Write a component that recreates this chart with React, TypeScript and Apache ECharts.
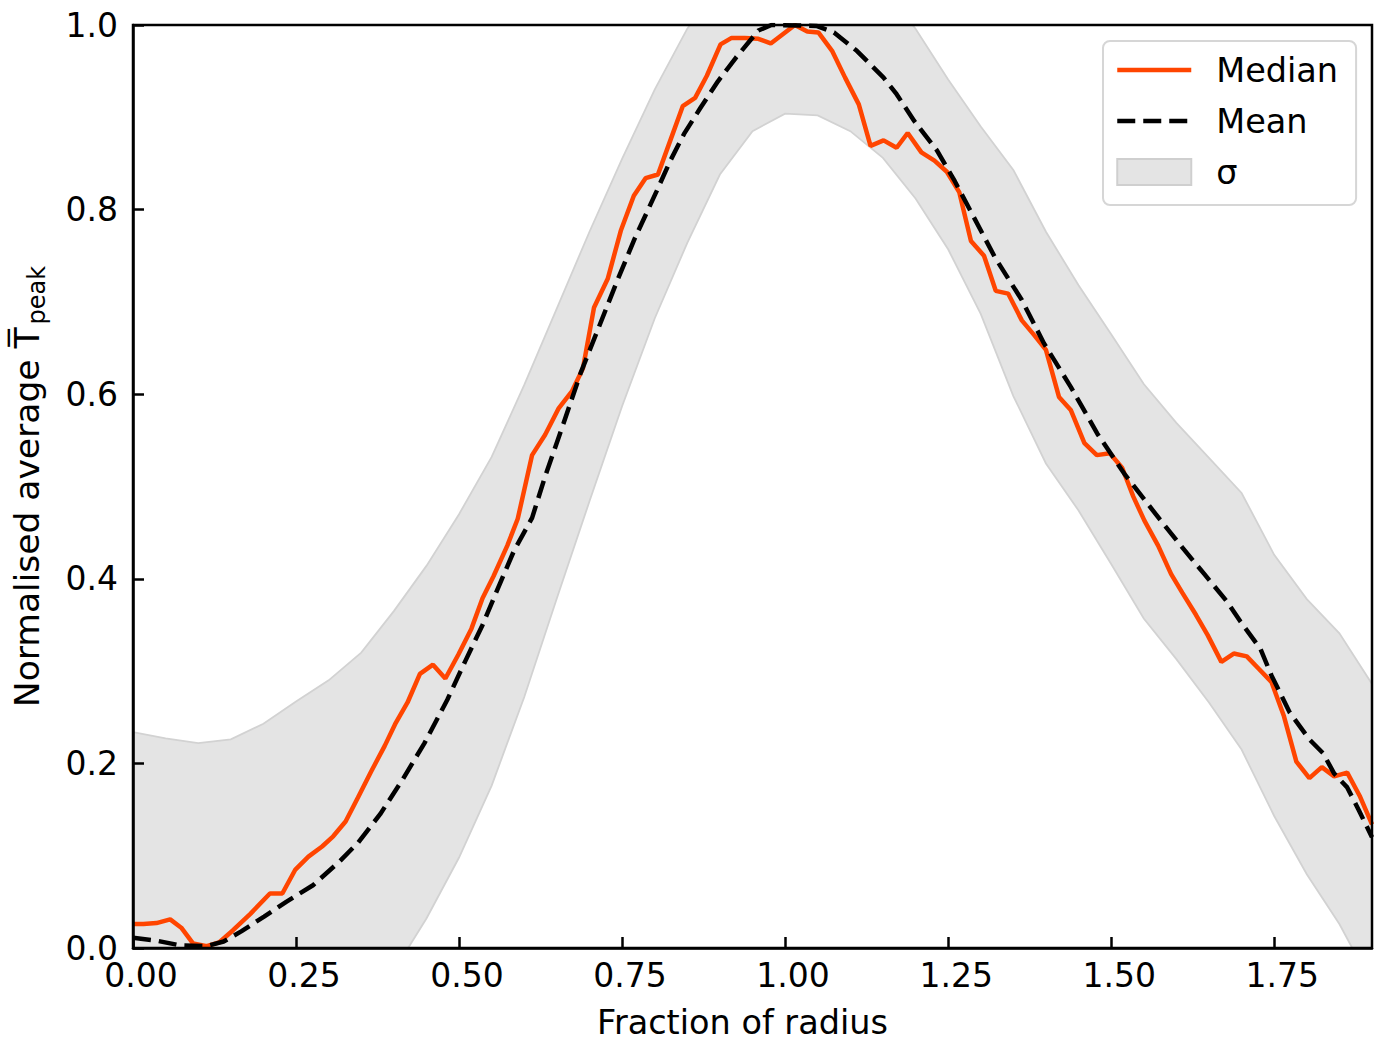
import React, { useEffect, useRef } from "react";
import * as echarts from "echarts";

// Median profile [fraction of radius, normalised T]
const median: number[][] = [
  [0.000, 0.026], [0.016, 0.026], [0.036, 0.027], [0.057, 0.031], [0.074, 0.022],
  [0.092, 0.005], [0.113, 0.002], [0.132, 0.006], [0.153, 0.019], [0.180, 0.037],
  [0.210, 0.059], [0.229, 0.059], [0.249, 0.085], [0.269, 0.099], [0.290, 0.110],
  [0.307, 0.121], [0.326, 0.137], [0.345, 0.163], [0.365, 0.191], [0.386, 0.219],
  [0.403, 0.244], [0.421, 0.266], [0.440, 0.297], [0.460, 0.307], [0.479, 0.292],
  [0.499, 0.318], [0.519, 0.346], [0.536, 0.379], [0.553, 0.403], [0.574, 0.436],
  [0.590, 0.465], [0.612, 0.534], [0.632, 0.556], [0.653, 0.585], [0.673, 0.603],
  [0.690, 0.628], [0.707, 0.694], [0.728, 0.725], [0.748, 0.777], [0.768, 0.815],
  [0.786, 0.834], [0.805, 0.838], [0.824, 0.875], [0.843, 0.912], [0.862, 0.921],
  [0.880, 0.945], [0.901, 0.979], [0.918, 0.986], [0.938, 0.986], [0.959, 0.985],
  [0.978, 0.980], [1.015, 1.000], [1.034, 0.993], [1.051, 0.992], [1.072, 0.972],
  [1.092, 0.943], [1.113, 0.914], [1.131, 0.869], [1.151, 0.875], [1.171, 0.867],
  [1.188, 0.883], [1.209, 0.862], [1.229, 0.853], [1.248, 0.841], [1.267, 0.819],
  [1.285, 0.766], [1.305, 0.750], [1.323, 0.712], [1.342, 0.709], [1.363, 0.680],
  [1.382, 0.664], [1.400, 0.648], [1.420, 0.597], [1.438, 0.583], [1.459, 0.547],
  [1.478, 0.534], [1.498, 0.536], [1.517, 0.520], [1.534, 0.489], [1.551, 0.463],
  [1.572, 0.436], [1.592, 0.405], [1.609, 0.385], [1.630, 0.361], [1.648, 0.339],
  [1.669, 0.310], [1.688, 0.319], [1.708, 0.316], [1.727, 0.302], [1.746, 0.288],
  [1.765, 0.251], [1.784, 0.202], [1.804, 0.184], [1.823, 0.196], [1.842, 0.186],
  [1.862, 0.190], [1.881, 0.165], [1.900, 0.134],
];

// Mean profile
const mean: number[][] = [
  [0.000, 0.011], [0.036, 0.008], [0.071, 0.003], [0.112, 0.002], [0.139, 0.007],
  [0.166, 0.018], [0.201, 0.034], [0.235, 0.050], [0.276, 0.068], [0.317, 0.094],
  [0.345, 0.114], [0.379, 0.145], [0.413, 0.182], [0.447, 0.222], [0.482, 0.269],
  [0.509, 0.310], [0.536, 0.350], [0.564, 0.397], [0.584, 0.430], [0.612, 0.466],
  [0.632, 0.511], [0.660, 0.568], [0.687, 0.624], [0.714, 0.672], [0.742, 0.722],
  [0.769, 0.768], [0.803, 0.820], [0.824, 0.853], [0.845, 0.882], [0.870, 0.910],
  [0.897, 0.939], [0.925, 0.965], [0.959, 0.994], [0.979, 1.000], [1.048, 0.999],
  [1.075, 0.992], [1.110, 0.972], [1.151, 0.943], [1.171, 0.925], [1.198, 0.896],
  [1.233, 0.864], [1.260, 0.831], [1.287, 0.795], [1.322, 0.748], [1.363, 0.702],
  [1.397, 0.655], [1.438, 0.608], [1.479, 0.557], [1.520, 0.514], [1.575, 0.464],
  [1.609, 0.434], [1.643, 0.405], [1.678, 0.375], [1.698, 0.354], [1.729, 0.324],
  [1.746, 0.295], [1.774, 0.255], [1.804, 0.226], [1.825, 0.211], [1.842, 0.189],
  [1.862, 0.174], [1.880, 0.149], [1.900, 0.120],
];

// Sigma band (lower / upper envelope)
const bandX = [
  0.00, 0.05, 0.10, 0.15, 0.20, 0.25, 0.30, 0.35, 0.40, 0.45,
  0.50, 0.55, 0.60, 0.65, 0.70, 0.75, 0.80, 0.85, 0.90, 0.95,
  1.00, 1.05, 1.10, 1.15, 1.20, 1.25, 1.30, 1.35, 1.40, 1.45,
  1.50, 1.55, 1.60, 1.65, 1.70, 1.75, 1.80, 1.85, 1.90,
];
const bandLower = [
  -0.22, -0.22, -0.22, -0.21, -0.19, -0.16, -0.12, -0.075, -0.025, 0.032,
  0.098, 0.176, 0.272, 0.379, 0.484, 0.587, 0.682, 0.764, 0.838, 0.885,
  0.904, 0.902, 0.885, 0.856, 0.812, 0.757, 0.687, 0.598, 0.525, 0.474,
  0.416, 0.357, 0.313, 0.266, 0.215, 0.143, 0.080, 0.026, -0.04,
];
const bandUpper = [
  0.234, 0.227, 0.222, 0.226, 0.243, 0.267, 0.290, 0.320, 0.365, 0.414,
  0.470, 0.532, 0.610, 0.693, 0.776, 0.855, 0.930, 0.996, 1.045, 1.075,
  1.090, 1.092, 1.075, 1.040, 0.996, 0.941, 0.890, 0.843, 0.776, 0.718,
  0.665, 0.611, 0.569, 0.531, 0.493, 0.426, 0.378, 0.341, 0.286,
];

const xTicks = [0, 0.25, 0.5, 0.75, 1.0, 1.25, 1.5, 1.75];
const yTicks = [0, 0.2, 0.4, 0.6, 0.8, 1.0];

const FONT = "DejaVu Sans";

export default function App() {
  const ref = useRef<HTMLDivElement>(null);

  useEffect(() => {
    if (!ref.current) return;
    const chart = echarts.init(ref.current, null, { renderer: "svg" });

    const bandData = bandX.map((x, i) => [x, bandLower[i], bandUpper[i]]);

    const renderBand = (params: any, api: any) => {
      if (params.dataIndex !== 0) return null;
      const up = bandX.map((x, i) => api.coord([x, bandUpper[i]]));
      const lo = bandX.map((x, i) => api.coord([x, bandLower[i]]));
      return {
        type: "group",
        children: [
          {
            type: "polygon",
            shape: { points: up.concat(lo.slice().reverse()) },
            style: { fill: "#e4e4e4", stroke: "none" },
          },
          {
            type: "polyline",
            shape: { points: up },
            style: { stroke: "#d2d2d2", lineWidth: 1.8, fill: "none" },
          },
          {
            type: "polyline",
            shape: { points: lo },
            style: { stroke: "#d2d2d2", lineWidth: 1.8, fill: "none" },
          },
        ],
      };
    };

    chart.setOption({
      animation: false,
      backgroundColor: "#ffffff",
      grid: {
        left: 133,
        right: 28,
        top: 25,
        bottom: 102,
        show: true,
        borderColor: "#000",
        borderWidth: 2.5,
        backgroundColor: "transparent",
        z: 10,
      },
      legend: {
        orient: "vertical",
        align: "left",
        left: 1103,
        top: 41,
        padding: [11, 18, 15, 12],
        itemWidth: 74,
        itemHeight: 26,
        itemGap: 15,
        selectedMode: false,
        backgroundColor: "#ffffff",
        borderColor: "#d6d6d6",
        borderWidth: 2,
        borderRadius: 7,
        z: 20,
        lineStyle: { width: "inherit", type: "inherit" },
        textStyle: {
          fontFamily: FONT,
          fontSize: 33.5,
          color: "#000",
          lineHeight: 36,
          padding: [0, 0, 0, 20],
        },
        data: [
          { name: "Median", itemStyle: { opacity: 0 }, lineStyle: { width: 4.5 } },
          { name: "Mean", itemStyle: { opacity: 0 }, lineStyle: { width: 4.5, type: [18, 8] } },
          {
            name: "σ",
            icon: "rect",
            itemStyle: { color: "#e4e4e4", borderColor: "#cfcfcf", borderWidth: 2, opacity: 1 },
          },
        ],
      },
      xAxis: {
        type: "value",
        min: 0,
        max: 1.9,
        interval: 0.25,
        z: 10,
        name: "Fraction of radius",
        nameLocation: "middle",
        nameGap: 54,
        nameTextStyle: {
          fontFamily: FONT,
          fontSize: 33.5,
          color: "#000",
          lineHeight: 40,
          padding: [0, 20, 0, 0],
        },
        axisLine: { show: true, onZero: false, lineStyle: { color: "#000", width: 2.5 } },
        axisTick: {
          show: true,
          inside: true,
          length: 11,
          customValues: xTicks,
          lineStyle: { color: "#000", width: 2.5 },
        },
        axisLabel: {
          customValues: xTicks,
          fontFamily: FONT,
          fontSize: 33,
          color: "#000",
          margin: 10,
          lineHeight: 34,
          padding: [0, 0, 0, 16],
          formatter: (v: number) => (v > 1.8 ? "" : v.toFixed(2)),
        },
        splitLine: { show: false },
      },
      yAxis: {
        type: "value",
        min: 0,
        max: 1,
        interval: 0.2,
        z: 10,
        name: "{n|Normalised average }{n|T\u0305}{s|peak}",
        nameLocation: "middle",
        nameRotate: 90,
        nameGap: 84,
        nameTextStyle: {
          fontFamily: FONT,
          color: "#000",
          rich: {
            n: { fontFamily: FONT, fontSize: 34.5, lineHeight: 44, verticalAlign: "middle", color: "#000" },
            s: { fontFamily: FONT, fontSize: 24, lineHeight: 24, verticalAlign: "bottom", color: "#000", padding: [0, 0, 0, 3] },
          },
        },
        axisLine: { show: true, onZero: false, lineStyle: { color: "#000", width: 2.5 } },
        axisTick: {
          show: true,
          inside: true,
          length: 11,
          customValues: yTicks,
          lineStyle: { color: "#000", width: 2.5 },
        },
        axisLabel: {
          customValues: yTicks,
          fontFamily: FONT,
          fontSize: 33,
          color: "#000",
          margin: 15,
          formatter: (v: number) => v.toFixed(1),
        },
        splitLine: { show: false },
      },
      series: [
        {
          name: "σ",
          type: "custom",
          data: bandData,
          encode: { x: 0, y: [1, 2] },
          renderItem: renderBand,
          clip: true,
          silent: true,
          z: 1,
          itemStyle: { color: "#e4e4e4" },
        },
        {
          name: "Median",
          type: "line",
          data: median,
          symbol: "none",
          z: 3,
          lineStyle: { color: "#ff4500", width: 4.5 },
          itemStyle: { color: "#ff4500" },
        },
        {
          name: "Mean",
          type: "line",
          data: mean,
          symbol: "none",
          z: 4,
          lineStyle: { color: "#000000", width: 4.5, type: [18, 8] },
          itemStyle: { color: "#000000" },
        },
      ],
    });

    return () => chart.dispose();
  }, []);

  return (
    <div
      ref={ref}
      style={{ position: "fixed", left: 0, top: 0, width: 1400, height: 1050, background: "#fff" }}
    />
  );
}
